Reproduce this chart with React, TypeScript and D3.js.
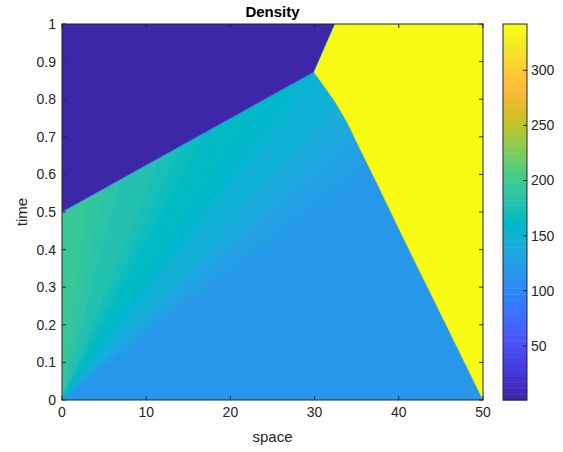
import React from 'react';
import * as d3 from 'd3';

// ---- data ----
const xTicks = [0, 10, 20, 30, 40, 50];
const tTicks = [0, 0.1, 0.2, 0.3, 0.4, 0.5, 0.6, 0.7, 0.8, 0.9, 1];
const cbTicks = [50, 100, 150, 200, 250, 300];
const colorLimits: [number, number] = [1, 342];

const initialDensity = 118;
const vacuumDensity = 1;
const jamDensity = 342;

// rarefaction fan from the origin: ray speed (space per unit time) and density
const fanSpeeds = [0, 3, 6, 9, 12, 15, 18, 21, 24, 27, 30, 33, 36, 39, 42, 45, 48, 51, 54, 57, 60];
const fanDensities = [200, 196, 192, 188, 184, 180, 176, 171, 167, 163, 159, 155, 151, 147, 143, 139, 135, 130, 126, 122, 118];

// front between fan and vacuum region
const vacuumFront: [number, number][] = [[0, 0.5], [29.9, 0.872]];
// boundary between vacuum and jam
const jamVacuumEdge: [number, number][] = [[29.9, 0.872], [32.4, 1]];
// shock between traffic and jam
const shockPath: [number, number][] = [
  [50, 0], [45.6, 0.2], [41.2, 0.4], [38.6, 0.52], [37.2, 0.585], [36.1, 0.635], [35.0, 0.685],
  [33.8, 0.74], [32.2, 0.8], [29.9, 0.872],
];

const parula64 = [
  [0.2422, 0.1504, 0.6603], [0.2504, 0.165, 0.7076], [0.2578, 0.1818, 0.7511], [0.2647, 0.1978, 0.7952],
  [0.2706, 0.2147, 0.8364], [0.2751, 0.2342, 0.871], [0.2783, 0.2559, 0.8991], [0.2803, 0.2782, 0.9221],
  [0.2813, 0.3006, 0.9414], [0.281, 0.3228, 0.9579], [0.2795, 0.3447, 0.9717], [0.276, 0.3667, 0.9829],
  [0.2699, 0.3892, 0.9906], [0.2602, 0.4123, 0.9952], [0.244, 0.4358, 0.9988], [0.2206, 0.4603, 0.9973],
  [0.1963, 0.4847, 0.9892], [0.1834, 0.5074, 0.9798], [0.1786, 0.5289, 0.9682], [0.1764, 0.5499, 0.952],
  [0.1687, 0.5703, 0.9359], [0.154, 0.5902, 0.9218], [0.146, 0.6091, 0.9079], [0.138, 0.6276, 0.8973],
  [0.1248, 0.6459, 0.8883], [0.1113, 0.6635, 0.8763], [0.0952, 0.6798, 0.8598], [0.0689, 0.6948, 0.8394],
  [0.0297, 0.7082, 0.8163], [0.0036, 0.7199, 0.7917], [0.0067, 0.7312, 0.766], [0.0433, 0.7411, 0.7394],
  [0.0964, 0.75, 0.712], [0.1408, 0.7584, 0.6842], [0.1717, 0.767, 0.6554], [0.1938, 0.7758, 0.6251],
  [0.2161, 0.7843, 0.5923], [0.247, 0.7918, 0.5567], [0.2906, 0.7973, 0.5188], [0.3406, 0.8008, 0.4789],
  [0.3909, 0.8029, 0.4354], [0.4456, 0.8024, 0.3909], [0.5044, 0.7993, 0.348], [0.5616, 0.7942, 0.3045],
  [0.6174, 0.7876, 0.2612], [0.672, 0.7793, 0.2227], [0.7242, 0.7698, 0.191], [0.7738, 0.7598, 0.1646],
  [0.8203, 0.7498, 0.1535], [0.8634, 0.7406, 0.1596], [0.9035, 0.733, 0.1774], [0.9393, 0.7288, 0.21],
  [0.9728, 0.7298, 0.2394], [0.9956, 0.7434, 0.2371], [0.997, 0.7659, 0.2199], [0.9952, 0.7893, 0.2028],
  [0.9892, 0.8136, 0.1885], [0.9786, 0.8386, 0.1766], [0.9676, 0.8639, 0.1643], [0.961, 0.889, 0.1537],
  [0.9597, 0.9135, 0.1423], [0.9628, 0.9373, 0.1265], [0.9691, 0.9606, 0.1064], [0.9769, 0.9839, 0.0805],
];

// ---- layout ----
const W = 563, H = 452;
const L = 62, R = 483, T = 24, B = 400;
const CB_L = 503, CB_R = 527;
const FONT = '"Liberation Sans", Arial, Helvetica, sans-serif';
const AX = '#262626';
const TICK_FS = 14;

export default function App() {
  const xs = d3.scaleLinear().domain([0, 50]).range([L, R]);
  const ts = d3.scaleLinear().domain([0, 1]).range([B, T]);
  const hex = parula64.map((c) => d3.rgb(c[0] * 255, c[1] * 255, c[2] * 255).formatHex());
  const color = d3.scaleQuantize<string>().domain(colorLimits).range(hex);
  const cs = d3.scaleLinear().domain(colorLimits).range([B, T]);

  const line = d3.line<[number, number]>().x((d) => xs(d[0])).y((d) => ts(d[1]));
  const smooth = d3.line<[number, number]>().x((d) => xs(d[0])).y((d) => ts(d[1])).curve(d3.curveCatmullRom.alpha(0.5));

  const darkPoly: [number, number][] = [[0, 1], ...vacuumFront, ...jamVacuumEdge.slice(1)];
  const shockD = smooth(shockPath) || '';
  const jamRest = [...jamVacuumEdge.slice(1), [50, 1] as [number, number]];
  const jamD = shockD + jamRest.map((p) => `L${xs(p[0])},${ts(p[1])}`).join('') + 'Z';

  const wedges = fanSpeeds.slice(0, -1).map((s, i) => {
    const s2 = fanSpeeds[i + 1];
    const pts: [number, number][] = [[0, 0], [s, 1], [s2, 1]];
    return { d: line(pts) + 'Z', fill: color((fanDensities[i] + fanDensities[i + 1]) / 2) };
  });

  const cbStep = (colorLimits[1] - colorLimits[0]) / hex.length;
  const cbBands = hex.map((h, i) => ({ y0: cs(colorLimits[0] + i * cbStep), y1: cs(colorLimits[0] + (i + 1) * cbStep), h }));

  return (
    <svg width={W} height={H} style={{ position: 'absolute', left: 0, top: 0, background: '#fff' }} fontFamily={FONT}>
      <defs>
        <clipPath id="plotClip">
          <rect x={L} y={T} width={R - L} height={B - T} />
        </clipPath>
      </defs>
      <g clipPath="url(#plotClip)">
        <rect x={L} y={T} width={R - L} height={B - T} fill={color(initialDensity)} />
        {wedges.map((w, i) => (
          <path key={i} d={w.d} fill={w.fill} stroke={w.fill} strokeWidth={0.6} />
        ))}
        <path d={line(darkPoly) + 'Z'} fill={color(vacuumDensity)} />
        <path d={jamD} fill={color(jamDensity)} />
        <path d={line(vacuumFront) || ''} fill="none" stroke={color(95)} strokeWidth={1} strokeOpacity={0.7} />
        <path d={shockD} fill="none" stroke={color(235)} strokeWidth={0.8} strokeOpacity={0.5} />
        <path d={line(jamVacuumEdge) || ''} fill="none" stroke={color(170)} strokeWidth={0.8} strokeOpacity={0.5} />
      </g>

      {/* axes box and ticks */}
      <rect x={L} y={T} width={R - L} height={B - T} fill="none" stroke={AX} strokeWidth={1} />
      {xTicks.map((v) => (
        <g key={'x' + v}>
          <line x1={xs(v)} x2={xs(v)} y1={B} y2={B - 4} stroke={AX} />
          <line x1={xs(v)} x2={xs(v)} y1={T} y2={T + 4} stroke={AX} />
          <text x={xs(v)} y={417} textAnchor="middle" fontSize={TICK_FS} fill={AX}>{String(v)}</text>
        </g>
      ))}
      {tTicks.map((v) => (
        <g key={'t' + v}>
          <line x1={L} x2={L + 4} y1={ts(v)} y2={ts(v)} stroke={AX} />
          <line x1={R} x2={R - 4} y1={ts(v)} y2={ts(v)} stroke={AX} />
          <text x={56} y={ts(v)} dy="0.35em" textAnchor="end" fontSize={TICK_FS} fill={AX}>{String(v)}</text>
        </g>
      ))}
      <text x={(L + R) / 2} y={442} textAnchor="middle" fontSize={15} fill={AX}>space</text>
      <text transform={`translate(27,${(T + B) / 2}) rotate(-90)`} textAnchor="middle" fontSize={15} fill={AX}>time</text>
      <text x={(L + R) / 2} y={17} textAnchor="middle" fontSize={15} fontWeight="bold" fill="#000">Density</text>

      {/* colorbar */}
      {cbBands.map((b, i) => (
        <rect key={'cb' + i} x={CB_L} y={b.y1} width={CB_R - CB_L} height={b.y0 - b.y1 + 0.5} fill={b.h} />
      ))}
      <rect x={CB_L} y={T} width={CB_R - CB_L} height={B - T} fill="none" stroke={AX} strokeWidth={1} />
      {cbTicks.map((v) => (
        <g key={'c' + v}>
          <line x1={CB_R} x2={CB_R - 4} y1={cs(v)} y2={cs(v)} stroke={AX} />
          <text x={531} y={cs(v)} dy="0.35em" textAnchor="start" fontSize={TICK_FS} fill={AX}>{String(v)}</text>
        </g>
      ))}
    </svg>
  );
}
